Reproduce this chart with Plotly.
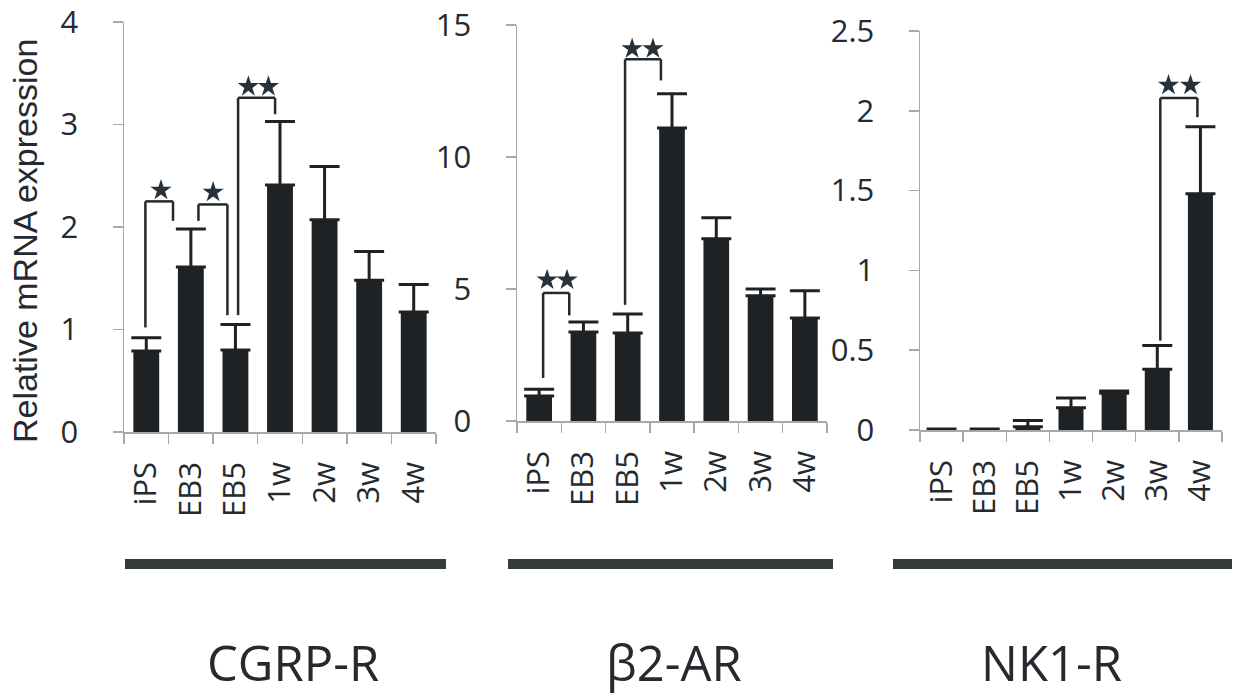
import plotly.graph_objects as go

W, H = 1235, 699

categories = ["iPS", "EB3", "EB5", "1w", "2w", "3w", "4w"]
cgrp_mean = [0.79, 1.61, 0.80, 2.41, 2.07, 1.48, 1.17]
cgrp_err = [0.13, 0.37, 0.25, 0.62, 0.52, 0.28, 0.27]
b2ar_mean = [0.95, 3.37, 3.33, 11.1, 6.9, 4.74, 3.9]
b2ar_err = [0.25, 0.38, 0.72, 1.3, 0.8, 0.26, 1.03]
nk1r_mean = [0.006, 0.006, 0.02, 0.14, 0.23, 0.38, 1.48]
nk1r_err = [0.0, 0.0, 0.04, 0.06, 0.015, 0.15, 0.42]
panel_names = ["CGRP-R", "β2-AR", "NK1-R"]
y_title = "Relative mRNA expression"
cgrp_ticks = [0, 1, 2, 3, 4]
b2ar_ticks = [0, 5, 10, 15]
nk1r_ticks = [0, 0.5, 1, 1.5, 2, 2.5]

# significance brackets: (panel, x_left, y_left_bottom, x_right, y_right_bottom, y_top, star_xs, star_y)
brackets = [
    (0, -0.02, 1.02, 0.60, 2.06, 2.25, [0.33], 2.36),
    (0, 1.17, 2.06, 1.82, 1.14, 2.22, [1.50], 2.34),
    (0, 2.06, 1.14, 2.89, 3.10, 3.26, [2.29, 2.74], 3.37),
    (1, 0.09, 1.63, 0.68, 4.00, 4.85, [0.18, 0.63], 5.34),
    (1, 1.94, 4.40, 2.75, 12.9, 13.7, [2.10, 2.57], 14.1),
    (2, 5.07, 0.56, 5.93, 1.96, 2.08, [5.26, 5.77], 2.16),
]


def px(x):
    return x / W


def py(y):
    return 1 - y / H


# layout geometry (pixels)
panels = [
    dict(x0=124, x1=436, ytop=22, ybot=432, yr=[0, 4], tv=cgrp_ticks, mean=cgrp_mean, err=cgrp_err),
    dict(x0=517, x1=827, ytop=25, ybot=421, yr=[0, 15], tv=b2ar_ticks, mean=b2ar_mean, err=b2ar_err),
    dict(x0=920, x1=1222, ytop=31, ybot=430, yr=[0, 2.5], tv=nk1r_ticks, mean=nk1r_mean, err=nk1r_err),
]
bar_lines = [(125, 446), (508, 833), (893, 1232)]
label_cx = [293, 674, 1051]

BAR = "#1f2224"
AX = "#a8a8a8"
TXT = "#262a2e"
idx = list(range(len(categories)))

fig = go.Figure()
layout = dict(
    width=W, height=H, margin=dict(l=0, r=0, t=0, b=0, pad=0, autoexpand=False),
    paper_bgcolor="white", plot_bgcolor="white", showlegend=False,
    bargap=0.42,
)
shapes, annotations = [], []

for i, p in enumerate(panels):
    sfx = "" if i == 0 else str(i + 1)
    xa, ya = "x" + sfx, "y" + sfx
    fig.add_trace(go.Bar(
        x=idx, y=p["mean"], xaxis=xa, yaxis=ya, marker_color=BAR, marker_line_width=0,
        error_y=dict(type="data", array=p["err"], arrayminus=[0] * 7, symmetric=False,
                     color=BAR, thickness=3, width=15),
        hoverinfo="skip",
    ))
    layout["xaxis" + sfx] = dict(
        domain=[px(p["x0"]), px(p["x1"])], anchor=ya, range=[-0.5, 6.5], automargin=False,
        tickmode="array", tickvals=idx, ticktext=categories, ticks="",
        tickangle=-90, tickfont=dict(family="Open Sans", size=31, color=TXT),
        ticklabelstandoff=16, ticklabeloverflow="allow",
        minor=dict(tickmode="array", tickvals=[k - 0.5 for k in range(8)],
                   ticks="outside", ticklen=10, tickcolor=AX, tickwidth=1.5),
        showline=True, linecolor=AX, linewidth=1.5, showgrid=False, zeroline=False,
        fixedrange=True,
    )
    layout["yaxis" + sfx] = dict(
        domain=[py(p["ybot"]), py(p["ytop"])], anchor=xa, range=p["yr"], automargin=False,
        tickmode="array", tickvals=p["tv"], ticktext=[f"{v:g}" for v in p["tv"]],
        ticks="outside", ticklen=10, tickcolor=AX, tickwidth=1.5,
        tickfont=dict(family="Open Sans", size=31, color=TXT), ticklabelstandoff=28,
        ticklabeloverflow="allow",
        showline=True, linecolor=AX, linewidth=1.5, showgrid=False, zeroline=False,
        fixedrange=True,
    )
    bx0, bx1 = bar_lines[i]
    shapes.append(dict(type="line", xref="paper", yref="paper",
                       x0=px(bx0), x1=px(bx1), y0=py(564), y1=py(564),
                       line=dict(color="#353b3b", width=10)))
    annotations.append(dict(xref="paper", yref="paper", x=px(label_cx[i]), y=py(697),
                            text=panel_names[i], showarrow=False, xanchor="center", yanchor="bottom",
                            font=dict(family="Open Sans", size=49, color=TXT)))

for (pi, xl, yl, xr, yr_, yt, sx, sy) in brackets:
    sfx = "" if pi == 0 else str(pi + 1)
    xr_ref, yr_ref = "x" + sfx, "y" + sfx
    for (a0, b0, a1, b1) in [(xl, yl, xl, yt), (xl, yt, xr, yt), (xr, yt, xr, yr_)]:
        shapes.append(dict(type="line", xref=xr_ref, yref=yr_ref, x0=a0, y0=b0, x1=a1, y1=b1,
                           line=dict(color="#25292c", width=2.5)))
    fig.add_trace(go.Scatter(
        x=sx, y=[sy] * len(sx), xaxis=xr_ref, yaxis=yr_ref, mode="markers",
        marker=dict(symbol="star", size=16, color="#27313a", line=dict(width=0)),
        hoverinfo="skip", cliponaxis=False,
    ))

annotations.append(dict(xref="paper", yref="paper", x=px(25), y=py(241), text=y_title,
                        showarrow=False, textangle=-90, xanchor="center", yanchor="middle",
                        font=dict(family="Liberation Sans", size=34, color=TXT)))

layout["shapes"] = shapes
layout["annotations"] = annotations
fig.update_layout(**layout)
fig.write_html("out.html", config={"displayModeBar": False, "staticPlot": True},
               post_script="document.body.style.margin='0';")
